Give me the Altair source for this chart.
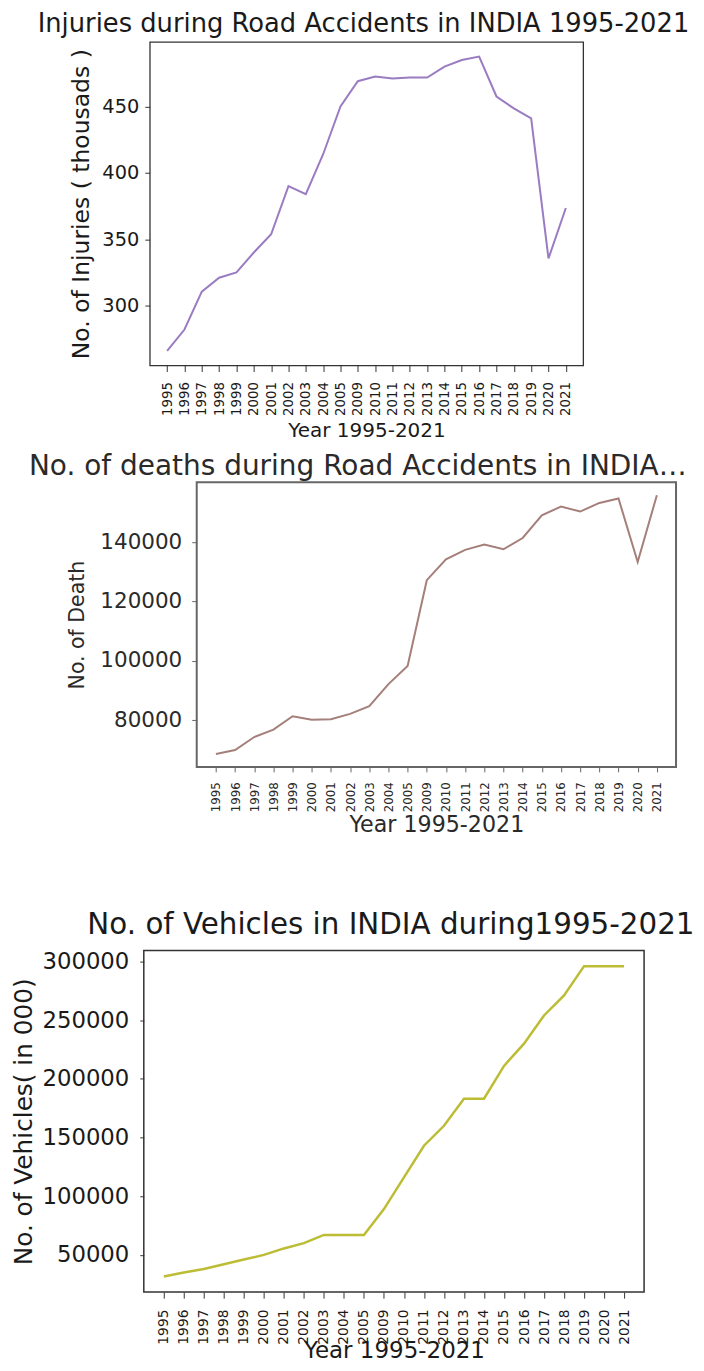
import altair as alt
import pandas as pd

years = ["1995", "1996", "1997", "1998", "1999", "2000", "2001", "2002", "2003", "2004", "2005",
         "2009", "2010", "2011", "2012", "2013", "2014", "2015", "2016", "2017", "2018", "2019",
         "2020", "2021"]
injuries = [266, 282, 310.5, 321, 325, 340, 353.7, 390, 384, 414, 450, 469, 472.5, 471, 471.8,
            471.8, 480, 485, 487.5, 457.5, 448.5, 441, 335.5, 373.5]
deaths = [68700, 70000, 74400, 76900, 81400, 80200, 80400, 82200, 84800, 92200, 98300, 127200,
          134200, 137400, 139200, 137600, 141400, 149000, 152000, 150300, 153200, 154700, 133300,
          155800]
vehicles = [31500, 35000, 38000, 42000, 46000, 50000, 55500, 60000, 67000, 67000, 67000, 89000,
            116000, 143000, 160000, 183000, 183000, 211000, 230000, 254000, 271000, 296000, 296000,
            296000]

inj_ticks = [300, 350, 400, 450]
death_ticks = [80000, 100000, 120000, 140000]
veh_ticks = [50000, 100000, 150000, 200000, 250000, 300000]

FONT = "DejaVu Sans"


def margin_domain(vals):
    lo, hi = min(vals), max(vals)
    m = (hi - lo) * 0.05
    return [lo - m, hi + m]


def spacer(w, h):
    return alt.Chart(pd.DataFrame({"s": [0]})).mark_point(opacity=0, size=1).encode(
        x=alt.value(0), y=alt.value(0)
    ).properties(width=w, height=h,
                 view=alt.ViewBackground(stroke="transparent", strokeWidth=0, fill="transparent"))


def panel(vals, color, sw, w, h, ticks, title, ytitle, s):
    df = pd.DataFrame({"year": years, "v": vals})
    return alt.Chart(df, title=title).mark_line(color=color, strokeWidth=sw).encode(
        x=alt.X("year:O",
                scale=alt.Scale(type="point", domain=years, padding=1.15),
                axis=alt.Axis(title="Year 1995-2021", labelAngle=-90, labelFontSize=s["xlab"],
                              labelPadding=s["xpad"], tickSize=s["xtick"], domain=False,
                              labelOverlap=False, labelFlush=False, tickColor=s["fc"],
                              labelColor=s["tc"], titleColor=s["tc"], titleFontSize=s["xtitle"],
                              titleFontWeight="normal", titleX=w / 2, titleY=s["xty"],
                              titleAlign="center", titleBaseline="middle", grid=False)),
        y=alt.Y("v:Q",
                scale=alt.Scale(domain=margin_domain(vals), nice=False, zero=False),
                axis=alt.Axis(title=ytitle, values=ticks, format="d", labelFontSize=s["ylab"],
                              labelPadding=s["ypad"], tickSize=s["ytick"], domain=False,
                              tickColor=s["fc"], labelColor=s["tc"], titleColor=s["tc"],
                              titleFontSize=s["ytitle"], titleFontWeight="normal",
                              titleX=s["ytx"], titleY=h / 2, titleAngle=270,
                              titleAlign="center", titleBaseline="middle", grid=False)),
    ).properties(width=w, height=h,
                 view=alt.ViewBackground(stroke=s["fc"], strokeWidth=s["fw"], fill="white"))


c1 = panel(injuries, "#9a7cc2", 2, 434, 324, inj_ticks,
           alt.TitleParams("Injuries during Road Accidents in INDIA 1995-2021", fontSize=25.8,
                           fontWeight="normal", color="#1a1a1a", frame="group", anchor="middle",
                           dx=-3, offset=4),
           "No. of Injuries ( thousads )",
           dict(xlab=13.4, xpad=10, xtick=6, xtitle=20, xty=65, ylab=19.4, ypad=6, ytick=5,
                ytitle=23.5, ytx=-68, fc="#333333", fw=1.3, tc="#1a1a1a"))

c2 = panel(deaths, "#a57f7a", 2, 480, 285, death_ticks,
           alt.TitleParams("No. of deaths during Road Accidents in INDIA 1995-2021", fontSize=28,
                           fontWeight="normal", color="#2a2a2a", frame="group", anchor="start",
                           dx=-168, limit=664, offset=1),
           "No. of Death",
           dict(xlab=11.8, xpad=10, xtick=5, xtitle=22.2, xty=58, ylab=21.5, ypad=10, ytick=5,
                ytitle=20.5, ytx=-119, fc="#666666", fw=2, tc="#2a2a2a"))

c3 = panel(vehicles, "#bcbd35", 2.5, 501, 342, veh_ticks,
           alt.TitleParams("No. of Vehicles in INDIA during1995-2021", fontSize=29.4,
                           fontWeight="normal", color="#1a1a1a", frame="group", anchor="middle",
                           dx=-3, offset=10),
           "No. of Vehicles( in 000)",
           dict(xlab=13.8, xpad=11, xtick=6, xtitle=23, xty=58, ylab=22.8, ypad=11, ytick=4,
                ytitle=24.8, ytx=-119, fc="#333333", fw=1.5, tc="#1a1a1a"))

row1 = alt.hconcat(spacer(6, 1), c1, spacing=0, bounds="flush")
row2 = alt.hconcat(spacer(53, 1), c2, spacing=0, bounds="flush")

chart = alt.vconcat(row1, spacer(1, 10), row2, spacer(1, 70), c3, spacing=0).properties(
    padding={"left": 3, "top": 1, "right": 0, "bottom": 0}
).configure(font=FONT).configure_axis(labelFont=FONT, titleFont=FONT).configure_title(font=FONT)

chart.save("out.html", embed_options={"renderer": "svg", "actions": False})
